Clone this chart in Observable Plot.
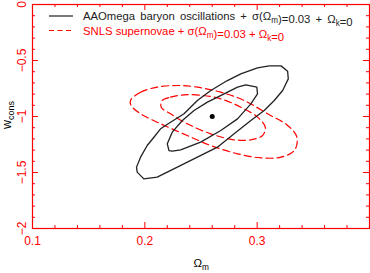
<!DOCTYPE html>
<html><head><meta charset="utf-8">
<script src="https://cdn.jsdelivr.net/npm/d3@7"></script>
<script src="https://cdn.jsdelivr.net/npm/@observablehq/plot@0.6"></script>
<style>body{margin:0;background:#fff}</style>
</head><body><div id="chart"></div>
<script>
// AAOmega BAO contours (Omega_m, w)
const baoOuterOm = [0.1932,0.1926,0.1962,0.2021,0.2081,0.2140,0.2229,0.2349,0.2468,0.2587,0.2735,0.2854,0.3003,0.3107,0.3212,0.3271,0.3277,0.3227,0.3152,0.3063,0.2944,0.2795,0.2646,0.2468,0.2289,0.2110,0.1991];
const baoOuterW  = [-1.497,-1.452,-1.363,-1.259,-1.185,-1.110,-1.051,-0.976,-0.857,-0.768,-0.679,-0.619,-0.565,-0.548,-0.548,-0.595,-0.664,-0.768,-0.857,-0.946,-1.036,-1.155,-1.274,-1.363,-1.452,-1.542,-1.557];
const baoInnerOm = [0.2215,0.2200,0.2244,0.2334,0.2438,0.2557,0.2706,0.2825,0.2899,0.2997,0.3003,0.2944,0.2825,0.2676,0.2497,0.2319,0.2244];
const baoInnerW  = [-1.304,-1.244,-1.140,-1.036,-0.946,-0.872,-0.798,-0.738,-0.717,-0.738,-0.798,-0.887,-1.021,-1.125,-1.229,-1.298,-1.310];
// SNLS contours
const snOuterOm = [0.1872,0.1962,0.2110,0.2289,0.2468,0.2676,0.2884,0.3093,0.3271,0.3354,0.3331,0.3212,0.3033,0.2825,0.2587,0.2378,0.2140,0.1962,0.1878];
const snOuterW  = [-0.857,-0.783,-0.738,-0.723,-0.738,-0.783,-0.857,-0.976,-1.080,-1.185,-1.304,-1.363,-1.369,-1.333,-1.259,-1.170,-1.065,-0.976,-0.902];
const snInnerOm = [0.2155,0.2229,0.2349,0.2497,0.2676,0.2854,0.3003,0.3072,0.3048,0.2944,0.2795,0.2587,0.2378,0.2229,0.2146];
const snInnerW  = [-0.857,-0.827,-0.807,-0.810,-0.842,-0.917,-1.006,-1.095,-1.170,-1.208,-1.208,-1.155,-1.065,-0.976,-0.917];
// best fit
const bestOm = [0.26];
const bestW = [-1.0];
// ticks
const xMajor = [0.1, 0.2, 0.3];
const xMinor = [0.12,0.14,0.16,0.18,0.22,0.24,0.26,0.28,0.32,0.34,0.36,0.38];
const yMajor = [0, -0.5, -1, -1.5, -2];
const yMinor = [-0.1,-0.2,-0.3,-0.4,-0.6,-0.7,-0.8,-0.9,-1.1,-1.2,-1.3,-1.4,-1.6,-1.7,-1.8,-1.9];

const zip = (a, b) => a.map((v, i) => ({om: v, w: b[i]}));
const RED = "#ff0000", BLK = "#222";
const W = 370, H = 273, mL = 32, mR = 1, mT = 4, mB = 45;
const fw = W - mL - mR, fh = H - mT - mB;

const plot = Plot.plot({
  width: W, height: H,
  marginLeft: mL, marginRight: mR, marginTop: mT, marginBottom: mB,
  x: {domain: [0.1, 0.4]},
  y: {domain: [-2, 0], axis: null},
  style: {fontFamily: "'Liberation Sans', Arial, sans-serif", fontSize: "12px", color: RED, background: "white"},
  marks: [
    Plot.line(zip(snOuterOm, snOuterW), {x: "om", y: "w", curve: "catmull-rom-closed", stroke: RED, strokeWidth: 1.2, strokeDasharray: "7,4"}),
    Plot.line(zip(snInnerOm, snInnerW), {x: "om", y: "w", curve: "catmull-rom-closed", stroke: RED, strokeWidth: 1.2, strokeDasharray: "7,4"}),
    Plot.line(zip(baoOuterOm, baoOuterW), {x: "om", y: "w", curve: "linear-closed", stroke: BLK, strokeWidth: 1.3}),
    Plot.line(zip(baoInnerOm, baoInnerW), {x: "om", y: "w", curve: "linear-closed", stroke: BLK, strokeWidth: 1.3}),
    Plot.dot(zip(bestOm, bestW), {x: "om", y: "w", r: 2.5, fill: "black", stroke: null}),
    // ticks, inward on all four sides
    Plot.tickX(xMinor, {x: d => d, stroke: RED, insetTop: fh - 3}),
    Plot.tickX(xMajor, {x: d => d, stroke: RED, insetTop: fh - 6}),
    Plot.tickX(xMinor, {x: d => d, stroke: RED, insetBottom: fh - 3}),
    Plot.tickX(xMajor, {x: d => d, stroke: RED, insetBottom: fh - 6}),
    Plot.tickY(yMinor, {y: d => d, stroke: RED, insetRight: fw - 3}),
    Plot.tickY(yMajor, {y: d => d, stroke: RED, insetRight: fw - 6}),
    Plot.tickY(yMinor, {y: d => d, stroke: RED, insetLeft: fw - 3}),
    Plot.tickY(yMajor, {y: d => d, stroke: RED, insetLeft: fw - 6}),
    Plot.frame({stroke: RED, strokeWidth: 1.2}),
    Plot.axisX(xMajor, {tickSize: 0, tickPadding: 8, tickFormat: d => d.toFixed(1), fill: RED, fontSize: 12, label: null}),
    Plot.text(yMajor, {y: d => d, frameAnchor: "left", text: d => d === 0 ? "0" : String(d).replace("-", "\u2212"), rotate: -90, dx: -7, textAnchor: "middle", lineAnchor: "bottom", fill: RED, fontSize: 12})
  ]
});
document.getElementById("chart").appendChild(plot);

// legend and axis titles with subscripts
const svg = d3.select(plot);
const font = "'Liberation Sans', Arial, sans-serif";
function sub(t, parts, size) {
  parts.forEach(([s, isSub]) => {
    t.append("tspan").attr("dy", isSub ? 3 : 0).attr("font-size", isSub ? size * 0.72 : size).text(s);
    if (isSub) t.append("tspan").attr("dy", -3).text("");
  });
}
const legend = [
  {color: BLK, dash: null, y: 16, ws: 2, parts: [["AAOmega baryon oscillations + \u03c3(\u03a9", 0], ["m", 1], [")=0.03 + \u03a9", 0], ["k", 1], ["=0", 0]]},
  {color: RED, dash: "5,3.5", y: 30.5, ws: 0, parts: [["SNLS supernovae + \u03c3(\u03a9", 0], ["m", 1], [")=0.03 + \u03a9", 0], ["k", 1], ["=0", 0]]}
];
legend.forEach(L => {
  svg.append("line").attr("x1", 49).attr("x2", 73).attr("y1", L.y).attr("y2", L.y)
    .attr("stroke", L.color).attr("stroke-width", 1.2).attr("stroke-dasharray", L.dash);
  const t = svg.append("text").attr("x", 83).attr("y", L.y + 4).attr("fill", L.color)
    .attr("text-anchor", "start").attr("word-spacing", L.ws).attr("font-family", font).attr("font-size", 11.3);
  sub(t, L.parts, 11.3);
});
const xl = svg.append("text").attr("x", 193.5).attr("y", 266.5).attr("fill", "black").attr("text-anchor", "start").attr("font-family", font).attr("font-size", 11.5);
sub(xl, [["\u03a9", 0], ["m", 1]], 11.5);
const yl = svg.append("text").attr("transform", "translate(10.5,129) rotate(-90)").attr("fill", "black").attr("text-anchor", "start").attr("font-family", font).attr("font-size", 12.5);
sub(yl, [["w", 0], ["cons", 1]], 12.5);
</script>
</body></html>
